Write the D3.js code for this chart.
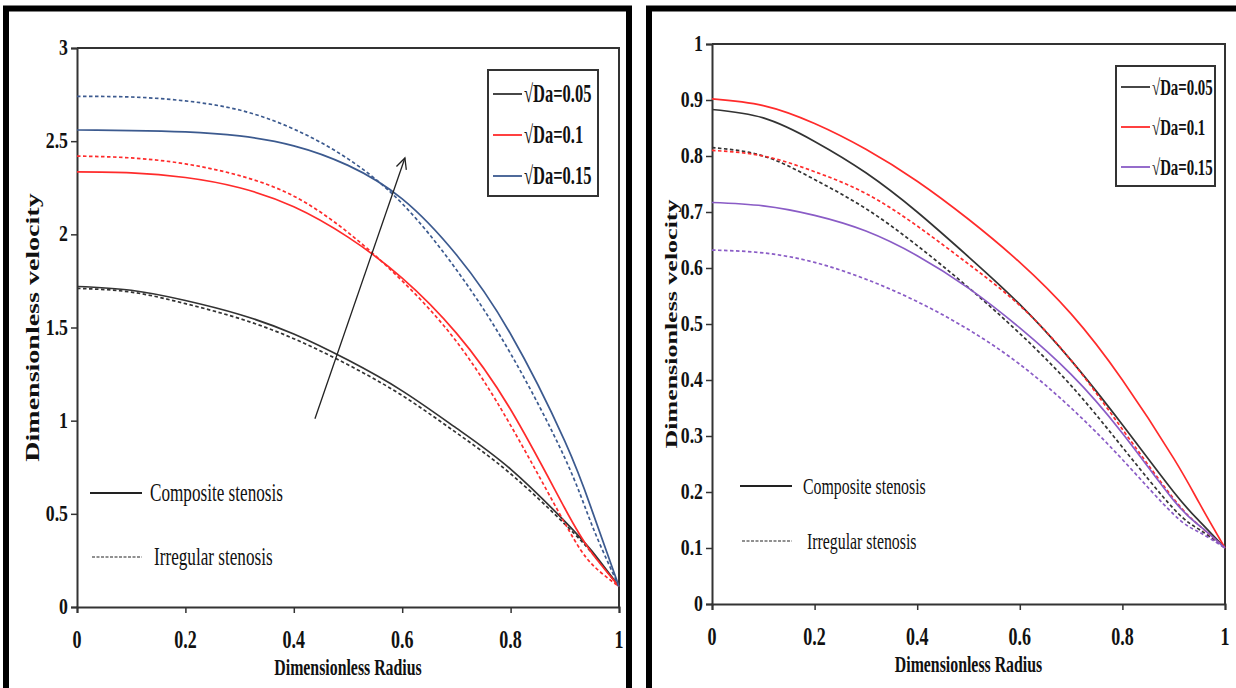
<!DOCTYPE html>
<html>
<head>
<meta charset="utf-8">
<script src="https://cdn.jsdelivr.net/npm/d3@7"></script>
<style>
  body { margin: 0; background: #fff; }
  svg { display: block; }
  text { font-family: "Liberation Serif", "Times New Roman", serif; fill: #111; }
</style>
</head>
<body>
<svg id="chart" width="1236" height="688"></svg>
<script>
// Radial positions shared by every profile
const radius = [0, 0.1, 0.2, 0.3, 0.4, 0.5, 0.6, 0.7, 0.8, 0.9, 0.95, 1];

// Left panel: velocity profiles (composite = solid, irregular = dashed)
const leftComposite005 = [1.72, 1.70, 1.645, 1.57, 1.465, 1.325, 1.16, 0.96, 0.74, 0.46, 0.30, 0.11];
const leftIrregular005 = [1.71, 1.69, 1.628, 1.548, 1.44, 1.30, 1.135, 0.935, 0.715, 0.445, 0.29, 0.11];
const leftComposite01  = [2.335, 2.33, 2.305, 2.25, 2.148, 1.985, 1.765, 1.47, 1.06, 0.53, 0.29, 0.11];
const leftIrregular01  = [2.42, 2.41, 2.378, 2.315, 2.205, 2.01, 1.75, 1.425, 0.975, 0.45, 0.23, 0.11];
const leftComposite015 = [2.56, 2.557, 2.55, 2.528, 2.475, 2.37, 2.19, 1.89, 1.465, 0.89, 0.52, 0.11];
const leftIrregular015 = [2.74, 2.737, 2.716, 2.667, 2.565, 2.405, 2.165, 1.81, 1.36, 0.80, 0.44, 0.11];

// Right panel: velocity profiles
const rightComposite005 = [0.883, 0.868, 0.826, 0.77, 0.70, 0.62, 0.535, 0.435, 0.32, 0.20, 0.148, 0.1];
const rightIrregular005 = [0.815, 0.80, 0.758, 0.706, 0.64, 0.565, 0.483, 0.39, 0.28, 0.17, 0.133, 0.1];
const rightComposite01  = [0.902, 0.89, 0.858, 0.812, 0.755, 0.687, 0.61, 0.518, 0.40, 0.26, 0.18, 0.1];
const rightIrregular01  = [0.81, 0.80, 0.772, 0.733, 0.675, 0.607, 0.533, 0.435, 0.312, 0.188, 0.14, 0.1];
const rightComposite015 = [0.717, 0.711, 0.694, 0.666, 0.622, 0.564, 0.493, 0.41, 0.305, 0.185, 0.14, 0.1];
const rightIrregular015 = [0.632, 0.627, 0.61, 0.58, 0.54, 0.49, 0.428, 0.35, 0.258, 0.16, 0.128, 0.1];

// Tick values and labels
const xTickValues = [0, 0.2, 0.4, 0.6, 0.8, 1];
const xTickLabels = ["0", "0.2", "0.4", "0.6", "0.8", "1"];
const leftYTickValues = [0, 0.5, 1, 1.5, 2, 2.5, 3];
const leftYTickLabels = ["0", "0.5", "1", "1.5", "2", "2.5", "3"];
const rightYTickValues = [0, 0.1, 0.2, 0.3, 0.4, 0.5, 0.6, 0.7, 0.8, 0.9, 1];
const rightYTickLabels = ["0", "0.1", "0.2", "0.3", "0.4", "0.5", "0.6", "0.7", "0.8", "0.9", "1"];

// Legend texts
const daLabels = ["\u221ADa=0.05", "\u221ADa=0.1", "\u221ADa=0.15"];
const stenosisLabels = ["Composite stenosis", "Irregular stenosis"];

// Arrow showing the trend with increasing Da (data coordinates)
const arrowFrom = [0.439, 1.01];
const arrowTo = [0.605, 2.41];

const SX = 0.66; // horizontal squeeze of the typeface
const svg = d3.select("#chart");

function squeezedText(g, x, y, str, o = {}) {
  const sx = o.sx || SX;
  return g.append("text")
    .attr("transform", `translate(${x},${y}) scale(${sx},1)` + (o.rotate ? ` rotate(${o.rotate})` : ""))
    .attr("text-anchor", o.anchor || "start")
    .attr("font-size", o.size || 22)
    .attr("font-weight", o.weight || "bold")
    .text(str);
}

function drawPanel(cfg) {
  const g = svg.append("g");
  const x = d3.scaleLinear().domain([0, 1]).range([cfg.x0, cfg.x1]);
  const y = d3.scaleLinear().domain([0, cfg.ymax]).range([cfg.yBot, cfg.yTop]);

  // outer frame
  g.append("rect")
    .attr("x", cfg.frame[0]).attr("y", cfg.frame[1])
    .attr("width", cfg.frame[2]).attr("height", cfg.frame[3])
    .attr("fill", "none").attr("stroke", "#000").attr("stroke-width", 6);

  // plot border (top and right)
  g.append("path")
    .attr("d", `M${cfg.x0},${cfg.yTop}H${cfg.x1}V${cfg.yBot}`)
    .attr("fill", "none").attr("stroke", "#333").attr("stroke-width", 2);

  // axes
  const xAxis = d3.axisBottom(x).tickValues(xTickValues).tickSize(6).tickFormat("");
  const yAxis = d3.axisLeft(y).tickValues(cfg.yTicks).tickSize(6).tickFormat("");
  const gx = g.append("g").attr("transform", `translate(0,${cfg.yBot})`).call(xAxis);
  const gy = g.append("g").attr("transform", `translate(${cfg.x0},0)`).call(yAxis);
  [gx, gy].forEach(a => {
    a.select(".domain").attr("stroke", "#333").attr("stroke-width", 2);
    a.selectAll(".tick line").attr("stroke", "#333").attr("stroke-width", 1.5);
  });

  xTickValues.forEach((v, i) => {
    squeezedText(g, x(v), cfg.yBot + 41, xTickLabels[i], { anchor: "middle", size: 25, sx: 0.72 });
  });
  cfg.yTicks.forEach((v, i) => {
    squeezedText(g, cfg.x0 - 9, y(v) + 7, cfg.yTickLabels[i], { anchor: "end", size: 24, sx: 0.74 });
  });

  // axis titles
  squeezedText(g, (cfg.x0 + cfg.x1) / 2, cfg.xTitleY, "Dimensionless Radius", { anchor: "middle", size: 24 });
  squeezedText(g, cfg.yTitleX, (cfg.yTop + cfg.yBot) / 2, "Dimensionless velocity",
    { anchor: "middle", size: cfg.yTitleSize, rotate: -90 });

  // profiles
  const line = d3.line()
    .x((d, i) => x(radius[i]))
    .y(d => y(d))
    .curve(d3.curveNatural);
  cfg.series.forEach(s => {
    g.append("path")
      .attr("d", line(s.values))
      .attr("fill", "none")
      .attr("stroke", s.color)
      .attr("stroke-width", 1.7)
      .attr("stroke-dasharray", s.dashed ? "3.5,2.5" : null);
  });

  // colour legend
  const L = cfg.legend;
  g.append("rect").attr("x", L.x).attr("y", L.y).attr("width", L.w).attr("height", L.h)
    .attr("fill", "#fff").attr("stroke", "#333").attr("stroke-width", 2);
  daLabels.forEach((lab, i) => {
    const yy = L.y + L.first + i * L.step;
    g.append("line").attr("x1", L.x + 5).attr("x2", L.x + 34).attr("y1", yy).attr("y2", yy)
      .attr("stroke", cfg.colors[i]).attr("stroke-width", 1.8);
    squeezedText(g, L.x + 36, yy + 8, lab, { size: L.size });
  });

  // line-style legend
  const S = cfg.styleLegend;
  stenosisLabels.forEach((lab, i) => {
    const yy = S.y + i * S.step;
    g.append("line").attr("x1", S.x + (i ? 2 : 0)).attr("x2", S.x + S.len).attr("y1", yy).attr("y2", yy)
      .attr("stroke", "#222").attr("stroke-width", i ? 1.2 : 1.8)
      .attr("stroke-dasharray", i ? "3,1.5" : null);
    squeezedText(g, S.x + S.len + S.gap + (i ? 4 : 0), yy + 8, lab, { size: S.size, weight: "normal" });
  });

  if (cfg.arrow) {
    const [a, b] = cfg.arrow;
    const x1 = x(a[0]), y1 = y(a[1]), x2 = x(b[0]), y2 = y(b[1]);
    const ang = Math.atan2(y2 - y1, x2 - x1);
    const hl = 12, hw = 0.45;
    g.append("line").attr("x1", x1).attr("y1", y1).attr("x2", x2).attr("y2", y2)
      .attr("stroke", "#222").attr("stroke-width", 1.3);
    g.append("path")
      .attr("d", `M${x2 - hl * Math.cos(ang - hw)},${y2 - hl * Math.sin(ang - hw)}L${x2},${y2}L${x2 - hl * Math.cos(ang + hw)},${y2 - hl * Math.sin(ang + hw)}`)
      .attr("fill", "none").attr("stroke", "#222").attr("stroke-width", 1.3);
  }
}

const colorsLeft = ["#333333", "#ff2b2b", "#3c5a8f"];
const colorsRight = ["#333333", "#ff2b2b", "#8a5cc6"];

drawPanel({
  frame: [6, 8.5, 623, 700],
  x0: 77, x1: 619, yTop: 48, yBot: 607, ymax: 3,
  yTicks: leftYTickValues, yTickLabels: leftYTickLabels,
  xTitleY: 675, yTitleX: 39, yTitleSize: 28,
  colors: colorsLeft,
  series: [
    { values: leftComposite005, color: colorsLeft[0] },
    { values: leftIrregular005, color: colorsLeft[0], dashed: true },
    { values: leftComposite01, color: colorsLeft[1] },
    { values: leftIrregular01, color: colorsLeft[1], dashed: true },
    { values: leftComposite015, color: colorsLeft[2] },
    { values: leftIrregular015, color: colorsLeft[2], dashed: true }
  ],
  legend: { x: 488, y: 70, w: 110, h: 126, first: 24, step: 41, size: 25 },
  styleLegend: { x: 90, y: 493, step: 64, len: 52, gap: 8, size: 26 },
  arrow: [arrowFrom, arrowTo]
});

drawPanel({
  frame: [649, 8.5, 620, 700],
  x0: 712, x1: 1225, yTop: 44, yBot: 604, ymax: 1,
  yTicks: rightYTickValues, yTickLabels: rightYTickLabels,
  xTitleY: 672, yTitleX: 677, yTitleSize: 26,
  colors: colorsRight,
  series: [
    { values: rightComposite005, color: colorsRight[0] },
    { values: rightIrregular005, color: colorsRight[0], dashed: true },
    { values: rightComposite01, color: colorsRight[1] },
    { values: rightIrregular01, color: colorsRight[1], dashed: true },
    { values: rightComposite015, color: colorsRight[2] },
    { values: rightIrregular015, color: colorsRight[2], dashed: true }
  ],
  legend: { x: 1116, y: 66, w: 99, h: 120, first: 21, step: 40, size: 22.5 },
  styleLegend: { x: 740, y: 486, step: 55, len: 52, gap: 11, size: 24 }
});
</script>
</body>
</html>
